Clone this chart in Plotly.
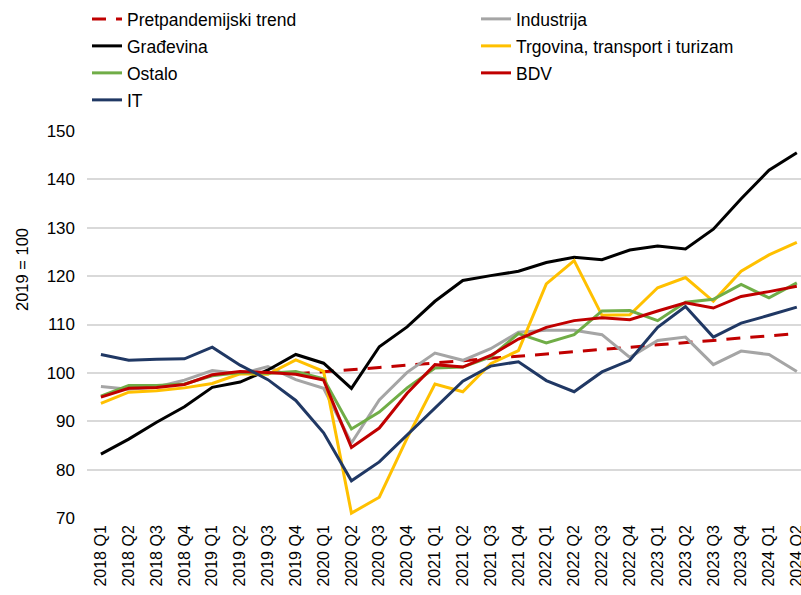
import plotly.graph_objects as go

quarters = ["2018 Q1", "2018 Q2", "2018 Q3", "2018 Q4",
            "2019 Q1", "2019 Q2", "2019 Q3", "2019 Q4",
            "2020 Q1", "2020 Q2", "2020 Q3", "2020 Q4",
            "2021 Q1", "2021 Q2", "2021 Q3", "2021 Q4",
            "2022 Q1", "2022 Q2", "2022 Q3", "2022 Q4",
            "2023 Q1", "2023 Q2", "2023 Q3", "2023 Q4",
            "2024 Q1", "2024 Q2"]

trend = [None, None, None, None, None, None, None, 99.8,
         100.2, 100.6, 101.1, 101.6, 102.0, 102.5, 103.0, 103.4,
         103.9, 104.4, 104.8, 105.3, 105.8, 106.2, 106.7, 107.2,
         107.6, 108.1]

industrija = [97.2, 96.6, 97.1, 98.5, 100.5, 99.8, 101.3, 98.6,
              96.8, 85.5, 94.4, 100.1, 104.1, 102.6, 105.0, 108.4,
              108.8, 108.8, 107.9, 103.2, 106.7, 107.4, 101.7, 104.5,
              103.8, 100.3]

gradjevina = [83.2, 86.3, 89.8, 93.0, 97.0, 98.1, 100.6, 103.8,
              102.0, 96.8, 105.4, 109.5, 114.8, 119.1, 120.1, 121.0,
              122.8, 123.9, 123.4, 125.4, 126.2, 125.6, 129.7, 136.0,
              141.9, 145.5]

trgovina = [93.7, 96.0, 96.3, 96.9, 97.8, 99.8, 99.7, 102.7,
            100.3, 71.0, 74.3, 86.5, 97.7, 96.1, 101.9, 104.6,
            118.4, 123.2, 111.9, 112.0, 117.6, 119.7, 114.8, 121.0,
            124.4, 127.0]

ostalo = [95.2, 97.4, 97.4, 97.7, 99.4, 100.1, 99.9, 100.3,
          98.8, 88.4, 91.9, 96.9, 101.0, 101.2, 103.3, 108.1,
          106.2, 107.9, 112.8, 112.9, 110.8, 114.6, 115.2, 118.3,
          115.5, 118.6]

bdv = [95.0, 96.8, 97.0, 97.6, 99.6, 100.3, 100.1, 99.7,
       98.5, 84.6, 88.6, 95.8, 101.7, 101.2, 103.6, 107.0,
       109.4, 110.8, 111.4, 111.0, 112.8, 114.5, 113.4, 115.8,
       116.8, 117.9]

it = [103.8, 102.6, 102.8, 102.9, 105.3, 101.6, 98.6, 94.3,
      87.6, 77.7, 81.6, 87.2, 92.7, 98.3, 101.4, 102.3,
      98.4, 96.1, 100.2, 102.6, 109.4, 113.7, 107.4, 110.3,
      111.9, 113.6]

y_ticks = [70, 80, 90, 100, 110, 120, 130, 140, 150]

FONT = "Liberation Sans, Arial, sans-serif"

# (name, values, colour, dash, legend column, legend row)
series = [
    ("Pretpandemijski trend", trend, "#C00000", "14px,10px", 0, 0),
    ("Industrija", industrija, "#A5A5A5", "solid", 1, 0),
    ("Građevina", gradjevina, "#000000", "solid", 0, 1),
    ("Trgovina, transport i turizam", trgovina, "#FFC000", "solid", 1, 1),
    ("Ostalo", ostalo, "#70AD47", "solid", 0, 2),
    ("BDV", bdv, "#C00000", "solid", 1, 2),
    ("IT", it, "#203864", "solid", 0, 3),
]

L, R, T, B = 87, 0, 131, 77
W, H = 801, 595
pw, ph = W - L - R, H - T - B


def px_x(p):
    return (p - L) / pw


def px_y(p):
    return (H - B - p) / ph


col_x = [87, 476]
row_top = [1, 28, 55, 82]

fig = go.Figure()
legend_layouts = {}
for k, (name, vals, color, dash, col, row) in enumerate(series):
    key = "legend" if k == 0 else f"legend{k + 1}"
    fig.add_trace(go.Scatter(
        x=quarters, y=vals, name=name, mode="lines",
        line=dict(color=color, width=3, dash=dash),
        legend=key,
    ))
    legend_layouts[key] = dict(
        orientation="v",
        xanchor="left", yanchor="top",
        x=px_x(col_x[col]), y=px_y(row_top[row]),
        font=dict(family=FONT, size=17.5, color="#000000"),
        bgcolor="rgba(0,0,0,0)",
        borderwidth=0,
    )

fig.update_layout(
    width=W, height=H,
    margin=dict(l=L, r=R, t=T, b=B, autoexpand=False),
    paper_bgcolor="white", plot_bgcolor="white",
    font=dict(family=FONT, size=16.5, color="#000000"),
    showlegend=True,
    xaxis=dict(
        type="category",
        range=[-0.5, 25.15],
        tickangle=-90,
        showgrid=False,
        showline=False,
        zeroline=False,
        ticks="",
        ticklabelstandoff=3,
        ticklabeloverflow="allow",
        tickfont=dict(family=FONT, size=16),
    ),
    yaxis=dict(
        range=[70, 150],
        tickvals=y_ticks,
        showgrid=True, gridcolor="#D9D9D9", gridwidth=2,
        zeroline=False, showline=False,
        ticks="",
        ticklabelstandoff=11,
        tickfont=dict(family=FONT, size=17),
    ),
    annotations=[dict(
        text="2019 = 100", textangle=-90,
        xref="paper", yref="paper",
        x=px_x(22), y=px_y(270),
        showarrow=False, xanchor="center", yanchor="middle",
        font=dict(family=FONT, size=16.5, color="#000000"),
    )],
    **legend_layouts,
)

fig.write_html(
    "out.html",
    config={"displayModeBar": False},
    post_script="document.body.style.margin='0';document.body.style.padding='0';",
)
